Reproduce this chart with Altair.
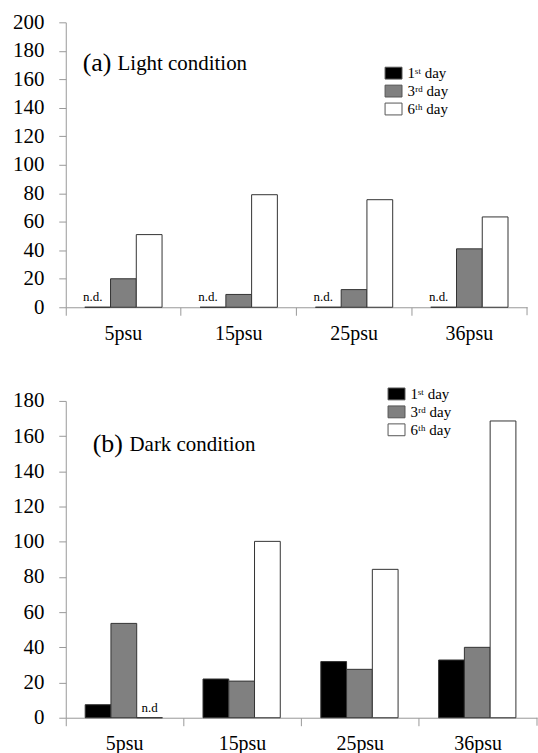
import altair as alt
import pandas as pd

salinity = ["5psu", "15psu", "25psu", "36psu"]
days = ["1ˢᵗ day", "3ʳᵈ day", "6ᵗʰ day"]

light_day1 = [0, 0, 0, 0]
light_day3 = [20, 9, 12.4, 41]
light_day6 = [51, 79, 75.5, 63.4]
light_nd1 = ["n.d.", "n.d.", "n.d.", "n.d."]

dark_day1 = [7.4, 22, 31.9, 32.8]
dark_day3 = [53.6, 20.8, 27.5, 40]
dark_day6 = [0, 100.2, 84.3, 168.6]
dark_nd6 = ["n.d", "", "", ""]

FONT = "Liberation Serif"


def make_df(d1, d3, d6, nd1=None, nd6=None):
    rows = []
    for i, s in enumerate(salinity):
        for day, vals, nd in ((days[0], d1, nd1), (days[1], d3, None), (days[2], d6, nd6)):
            rows.append({"sal": s, "day": day, "value": vals[i],
                         "nd": (nd[i] if nd else "")})
    return pd.DataFrame(rows)


def panel(df, ymax, W, H, tag, label, tag_x, label_x, title_y, legx, legy, nd_dx):
    xscale = alt.Scale(paddingInner=0.33, paddingOuter=0.165)
    xoffscale = alt.Scale(paddingInner=0, paddingOuter=0)
    yscale = alt.Scale(domain=[0, ymax], nice=False)
    xaxis = alt.Axis(title=None, labelAngle=0, bandPosition=-0.246,
                     labelFont=FONT, labelFontSize=20, labelColor="black",
                     tickSize=8, tickColor="#999", domainColor="#999",
                     labelPadding=8)
    yaxis = alt.Axis(title=None, grid=False, values=list(range(0, ymax + 1, 20)),
                     labelOverlap=False,
                     labelFont=FONT, labelFontSize=21, labelColor="black",
                     tickSize=7, tickColor="#999", domainColor="#999",
                     labelPadding=15)
    xenc = alt.X("sal:N", sort=salinity, scale=xscale, axis=xaxis)
    xoff = alt.XOffset("day:N", sort=days, scale=xoffscale)
    yenc = alt.Y("value:Q", scale=yscale, axis=yaxis)
    bars = alt.Chart(df).mark_bar(stroke="#333", strokeWidth=1).encode(
        x=xenc, xOffset=xoff, y=yenc,
        color=alt.Color("day:N", sort=days,
                        scale=alt.Scale(domain=days, range=["#000000", "#808080", "#ffffff"]),
                        legend=alt.Legend(orient="none", legendX=legx, legendY=legy, title=None,
                                          symbolType="M-1,-0.7H1V0.7H-1Z", symbolSize=289,
                                          symbolStrokeColor="#555", symbolStrokeWidth=1,
                                          labelFont=FONT, labelFontSize=15, labelColor="black",
                                          rowPadding=1, labelOffset=5)),
    )
    nd = alt.Chart(df).transform_filter("datum.nd != ''").mark_text(
        font=FONT, fontSize=13, baseline="middle", dy=-10, dx=nd_dx, color="black"
    ).encode(x=xenc, xOffset=xoff, y=yenc, text="nd:N")
    t1 = alt.Chart(pd.DataFrame({"t": [tag]})).mark_text(
        font=FONT, fontSize=26, align="left", baseline="middle", color="black"
    ).encode(text="t:N", x=alt.value(tag_x), y=alt.value(title_y))
    t2 = alt.Chart(pd.DataFrame({"t": [label]})).mark_text(
        font=FONT, fontSize=21, align="left", baseline="middle", color="black"
    ).encode(text="t:N", x=alt.value(label_x), y=alt.value(title_y + 1))
    endtick = alt.Chart(pd.DataFrame({"a": [0]})).mark_rule(color="#999").encode(
        x=alt.value(W), y=alt.value(H), y2=alt.value(H + 8))
    return alt.layer(bars, nd, t1, t2, endtick).properties(width=W, height=H)


top = panel(make_df(light_day1, light_day3, light_day6, nd1=light_nd1), 200, 463, 286,
            "(a)", "Light condition", 17, 52, 41, 320, 42, -5)
bottom = panel(make_df(dark_day1, dark_day3, dark_day6, nd6=dark_nd6), 180, 473, 318,
               "(b)", "Dark condition", 27, 64, 43, 323, -16, 0)

chart = alt.vconcat(top, bottom, spacing=42).resolve_legend(color="independent").resolve_scale(
    color="independent"
).properties(
    padding={"left": 12, "top": 10, "right": 0, "bottom": 0}
).configure_view(stroke=None).configure_concat(spacing=42)

chart.save("out.html", embed_options={"renderer": "svg", "actions": False})
